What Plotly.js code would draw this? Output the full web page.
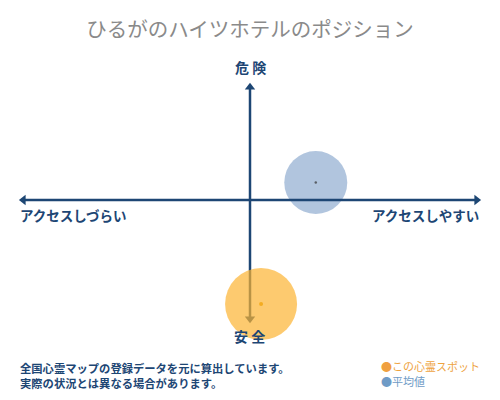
<!DOCTYPE html>
<html>
<head>
<meta charset="utf-8">
<script src="https://cdn.plot.ly/plotly-3.0.1.min.js"></script>
<style>html,body{margin:0;padding:0;background:#fff;}#chart{width:500px;height:400px;}</style>
</head>
<body>
<div id="chart"></div>
<script>
// ---- data ----
var seriesNames = ['この心霊スポット', '平均値'];
var accessX = [0.048, 0.285];     // アクセスしづらい(-) ～ アクセスしやすい(+)
var dangerY = [-0.867, 0.146];    // 安全(-) ～ 危険(+)
var bubbleSize = [72, 63];
var titleText = 'ひるがのハイツホテルのポジション';
var topLabel = '危 険';
var bottomLabel = '安 全';
var leftLabel = 'アクセスしづらい';
var rightLabel = 'アクセスしやすい';
var noteLines = ['全国心霊マップの登録データを元に算出しています。', '実際の状況とは異なる場合があります。'];

// axis frame extents
var hExtent = [-0.982, 0.982];
var vExtent = [-0.99, 0.94];

var navy = '#1d4674';
var font = '"Noto Sans CJK JP", "Noto Sans", sans-serif';

var traces = [
  { // average (below axis lines)
    x: [accessX[1]], y: [dangerY[1]], mode: 'markers', type: 'scatter', cliponaxis: false,
    marker: {size: bubbleSize[1], color: 'rgba(100,140,190,0.5)', line: {width: 0}},
    hoverinfo: 'skip', showlegend: false
  },
  { // horizontal axis
    x: hExtent, y: [0, 0], mode: 'lines+markers', type: 'scatter', cliponaxis: false,
    line: {color: navy, width: 2.5},
    marker: {symbol: ['triangle-left', 'triangle-right'], size: 9, color: navy, line: {width: 0}},
    hoverinfo: 'skip', showlegend: false
  },
  { // vertical axis
    x: [0, 0], y: vExtent, mode: 'lines+markers', type: 'scatter', cliponaxis: false,
    line: {color: navy, width: 2.5},
    marker: {symbol: ['triangle-down', 'triangle-up'], size: 9, color: navy, line: {width: 0}},
    hoverinfo: 'skip', showlegend: false
  },
  { // this spot
    x: [accessX[0]], y: [dangerY[0]], mode: 'markers', type: 'scatter', cliponaxis: false,
    marker: {size: bubbleSize[0], color: 'rgba(252,180,50,0.7)', line: {width: 0}},
    hoverinfo: 'skip', showlegend: false
  },
  { // center dots
    x: accessX, y: dangerY, mode: 'markers', type: 'scatter', cliponaxis: false,
    marker: {size: [4, 2.5], color: ['#f0a000', '#333333'], line: {width: 0}},
    hoverinfo: 'skip', showlegend: false
  }
];

var ann = [];
function A(o){ ann.push(Object.assign({xref:'paper', yref:'paper', showarrow:false}, o)); }
A({text: '<b>' + topLabel + '</b>', x: 0.5, y: 1.004, xanchor: 'center', yanchor: 'middle', font: {family: font, size: 14, color: navy}});
A({text: '<b>' + bottomLabel + '</b>', x: 0.498, y: -0.015, xanchor: 'center', yanchor: 'middle', font: {family: font, size: 14, color: navy}});
A({text: '<b>' + leftLabel + '</b>', x: 0.0167, y: 0.443, xanchor: 'left', yanchor: 'middle', font: {family: font, size: 13.5, color: navy}});
A({text: '<b>' + rightLabel + '</b>', x: 0.981, y: 0.443, xanchor: 'right', yanchor: 'middle', font: {family: font, size: 13.5, color: navy}});
A({text: '<b>' + noteLines[0] + '</b>', x: 0.0167, y: -0.136, xanchor: 'left', yanchor: 'middle', font: {family: font, size: 11.3, color: navy}});
A({text: '<b>' + noteLines[1] + '</b>', x: 0.0167, y: -0.193, xanchor: 'left', yanchor: 'middle', font: {family: font, size: 11.3, color: navy}});
A({text: '<span style="color:#f0a040">●</span>' + seriesNames[0], x: 0.769, y: -0.130, xanchor: 'left', yanchor: 'middle', font: {family: font, size: 11, color: '#eea33f'}});
A({text: '<span style="color:#6f9bc6">●</span>' + seriesNames[1], x: 0.769, y: -0.187, xanchor: 'left', yanchor: 'middle', font: {family: font, size: 11, color: '#6f9bc6'}});

var layout = {
  width: 500, height: 400,
  margin: {l: 10, r: 10, t: 68, b: 68},
  paper_bgcolor: '#ffffff', plot_bgcolor: '#ffffff',
  title: {text: titleText, x: 0.5, xanchor: 'center', y: 0.925, yanchor: 'middle', font: {family: font, size: 20.5, color: '#8a8a8a'}},
  xaxis: {range: [-1.04, 1.04], visible: false, fixedrange: true},
  yaxis: {range: [-1.1, 1.1], visible: false, fixedrange: true},
  annotations: ann,
  showlegend: false
};

Plotly.newPlot('chart', traces, layout, {displayModeBar: false, staticPlot: true});
</script>
</body>
</html>
